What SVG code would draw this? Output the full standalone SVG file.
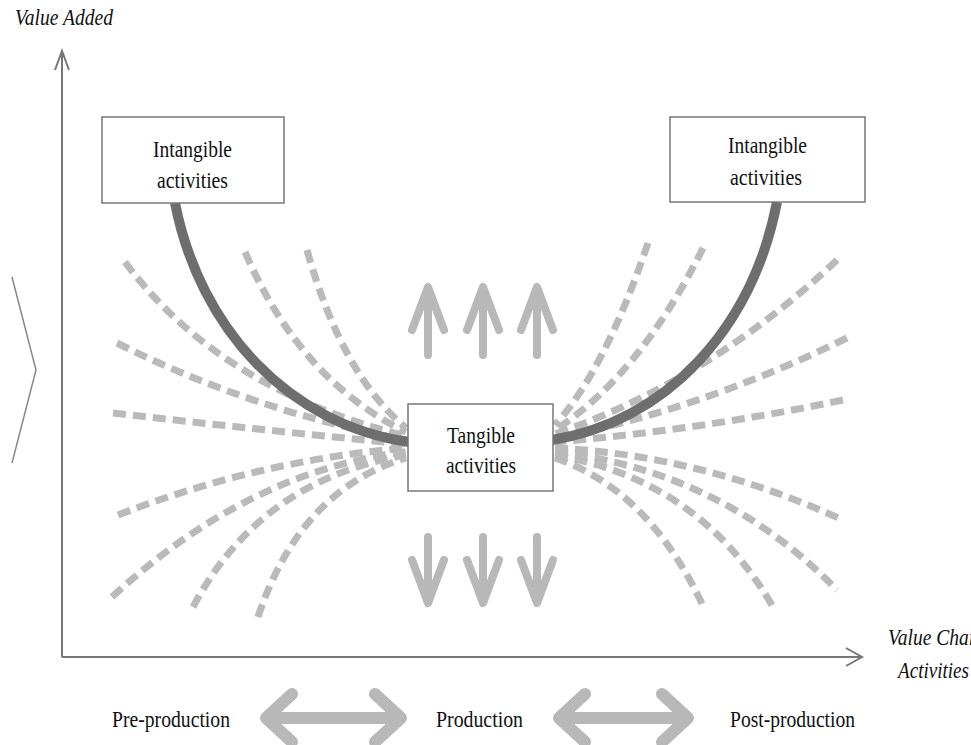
<svg xmlns="http://www.w3.org/2000/svg" width="971" height="745" viewBox="0 0 971 745">
  <style>
    .axis { fill: none; stroke: #777; stroke-width: 2; }
    .thin { fill: none; stroke: #888; stroke-width: 1.5; }
    .dash { fill: none; stroke: #bababa; stroke-width: 7; stroke-dasharray: 13 7; }
    .curve { fill: none; stroke: #6e6e6e; stroke-width: 10; }
    .arrow { fill: none; stroke: #b8b8b8; stroke-width: 8; stroke-linecap: round; stroke-linejoin: round; }
    .box { fill: #fff; stroke: #777; stroke-width: 1.5; }
    .lbl { font-family: "Liberation Serif", "Times New Roman", serif; font-size: 24px; fill: #111; }
    .ital { font-style: italic; }
  </style>

  <!-- axes -->
  <g id="axes">
    <line class="axis" x1="62" y1="51" x2="62" y2="657"/>
    <line class="axis" x1="62" y1="657" x2="862" y2="657"/>
    <polyline class="axis" points="55,70 62,51 69,70"/>
    <polyline class="axis" points="846,648 862,657 846,666"/>
    <polyline class="thin" points="12,277 36,370 12,463"/>
  </g>

  <g id="connectors">
    <!-- fan of dashed lines to the left -->
    <path class="dash" d="M307,250 Q342,375 406,428"/>
    <path class="dash" d="M245,252 Q300,380 406,432"/>
    <path class="dash" d="M125,262 Q220,390 406,436"/>
    <path class="dash" d="M117,343 Q250,410 406,440"/>
    <path class="dash" d="M113,413 Q260,430 406,444"/>
    <path class="dash" d="M118,515 Q260,460 406,448"/>
    <path class="dash" d="M112,597 Q250,470 406,452"/>
    <path class="dash" d="M193,607 Q260,480 406,455"/>
    <path class="dash" d="M258,617 Q300,490 406,458"/>
    <!-- fan of dashed lines to the right -->
    <path class="dash" d="M648,243 Q605,370 555,425"/>
    <path class="dash" d="M703,248 Q640,375 555,430"/>
    <path class="dash" d="M837,260 Q710,380 555,434"/>
    <path class="dash" d="M847,338 Q700,410 555,438"/>
    <path class="dash" d="M843,400 Q700,430 555,442"/>
    <path class="dash" d="M555,448 Q700,455 843,520"/>
    <path class="dash" d="M555,452 Q720,470 837,590"/>
    <path class="dash" d="M555,455 Q700,480 773,607"/>
    <path class="dash" d="M555,458 Q650,490 705,610"/>

    <!-- smile curve -->
    <path class="curve" d="M175,203 C200,330 290,425 409,442"/>
    <path class="curve" d="M777,202 C752,330 665,422 552,440"/>

    <!-- up arrows -->
    <path class="arrow" d="M428,355 V290 M412,330 L428,287 L444,330"/>
    <path class="arrow" d="M483,355 V290 M467,330 L483,287 L499,330"/>
    <path class="arrow" d="M537,355 V290 M521,330 L537,287 L553,330"/>
    <!-- down arrows -->
    <path class="arrow" d="M428,537 V600 M412,560 L428,603 L444,560"/>
    <path class="arrow" d="M483,537 V600 M467,560 L483,603 L499,560"/>
    <path class="arrow" d="M537,537 V600 M521,560 L537,603 L553,560"/>

    <!-- double arrows between stages -->
    <path class="arrow" style="stroke-width:12" d="M268,718 H400 M292,694 L266,718 L292,742 M375,694 L401,718 L375,742"/>
    <path class="arrow" style="stroke-width:12" d="M560,718 H688 M585,694 L559,718 L585,742 M662,694 L688,718 L662,742"/>
  </g>

  <g id="node-intangible-left">
    <rect class="box" x="102" y="117" width="182" height="86"/>
    <text class="lbl" x="153" y="157" textLength="79" lengthAdjust="spacingAndGlyphs">Intangible</text>
    <text class="lbl" x="157" y="188" textLength="71" lengthAdjust="spacingAndGlyphs">activities</text>
  </g>

  <g id="node-intangible-right">
    <rect class="box" x="670" y="117" width="195" height="85"/>
    <text class="lbl" x="728" y="153" textLength="79" lengthAdjust="spacingAndGlyphs">Intangible</text>
    <text class="lbl" x="730" y="185" textLength="72" lengthAdjust="spacingAndGlyphs">activities</text>
  </g>

  <g id="node-tangible">
    <rect class="box" x="408" y="404" width="145" height="87"/>
    <text class="lbl" x="447" y="443" textLength="68" lengthAdjust="spacingAndGlyphs">Tangible</text>
    <text class="lbl" x="446" y="473" textLength="70" lengthAdjust="spacingAndGlyphs">activities</text>
  </g>

  <g id="labels">
    <text class="lbl ital" x="15" y="25" textLength="98" lengthAdjust="spacingAndGlyphs">Value Added</text>
    <text class="lbl ital" x="888" y="645" textLength="96" lengthAdjust="spacingAndGlyphs">Value Chain</text>
    <text class="lbl ital" x="898" y="678" textLength="71" lengthAdjust="spacingAndGlyphs">Activities</text>
    <text class="lbl" x="112" y="727" textLength="118" lengthAdjust="spacingAndGlyphs">Pre-production</text>
    <text class="lbl" x="436" y="727" textLength="87" lengthAdjust="spacingAndGlyphs">Production</text>
    <text class="lbl" x="730" y="727" textLength="125" lengthAdjust="spacingAndGlyphs">Post-production</text>
  </g>
</svg>
